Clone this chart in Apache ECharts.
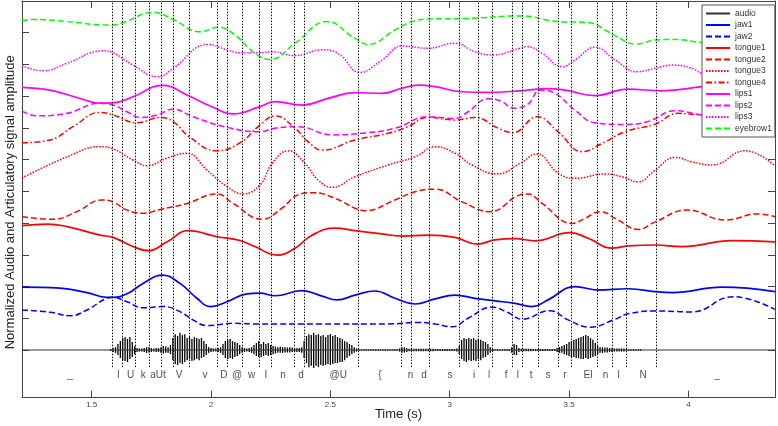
<!DOCTYPE html>
<html><head><meta charset="utf-8">
<script src="https://cdn.jsdelivr.net/npm/echarts@6/dist/echarts.min.js"></script>
<style>html,body{margin:0;padding:0;background:#fff}#c{width:778px;height:426px}</style>
</head><body><div id="c"></div>
<script>
// ---------- DATA ----------
const xMin = 1.208, xMax = 4.363;
const yMin = -1.5, yMax = 11;
const xTicks = [1.5, 2, 2.5, 3, 3.5, 4];
const yTicks = [0, 1, 2, 3, 4, 5, 6, 7, 8, 9, 10, 11];

const eyebrow1 = [[1.208,10.38],[1.254,10.42],[1.397,10.35],[1.577,10.24],[1.631,10.32],[1.757,10.64],[1.841,10.42],[1.954,10.03],[2.029,10.17],[2.092,9.98],[2.184,9.35],[2.247,9.16],[2.352,9.67],[2.485,10.35],[2.603,9.82],[2.658,9.63],[2.771,10.09],[2.841,10.35],[2.909,10.43],[3.077,10.45],[3.295,10.53],[3.454,10.35],[3.580,10.32],[3.664,10.03],[3.747,9.69],[3.777,9.64],[3.861,9.77],[3.932,9.79],[4.057,9.69],[4.217,9.61],[4.363,9.61]];
const lips3 = [[1.208,8.96],[1.296,8.80],[1.397,9.04],[1.547,9.43],[1.589,9.37],[1.673,8.98],[1.778,8.61],[1.841,8.88],[1.987,9.63],[2.067,9.46],[2.121,9.37],[2.205,9.37],[2.256,9.40],[2.352,9.28],[2.465,9.46],[2.532,9.35],[2.624,8.75],[2.716,9.14],[2.800,9.58],[2.909,9.51],[3.022,9.67],[3.106,9.40],[3.182,9.30],[3.295,9.51],[3.324,9.56],[3.387,9.35],[3.471,8.93],[3.525,9.14],[3.609,9.54],[3.693,9.14],[3.785,8.77],[3.861,8.88],[3.932,8.98],[4.015,8.88],[4.057,8.72],[4.217,8.51],[4.363,8.45]];
const lips1 = [[1.208,8.28],[1.325,8.19],[1.438,7.96],[1.535,7.78],[1.589,7.79],[1.673,7.98],[1.795,8.34],[1.899,8.04],[2.008,7.65],[2.092,7.44],[2.205,7.67],[2.268,7.83],[2.381,7.72],[2.490,7.93],[2.603,8.11],[2.716,8.09],[2.800,8.25],[2.867,8.35],[2.939,8.30],[3.052,8.14],[3.161,8.12],[3.295,8.17],[3.412,8.24],[3.483,8.19],[3.609,8.02],[3.747,8.22],[3.890,8.17],[4.057,8.30],[4.217,8.45],[4.363,8.57]];
const lips2 = [[1.208,7.53],[1.271,7.38],[1.397,7.46],[1.535,7.78],[1.589,7.72],[1.648,7.51],[1.702,7.33],[1.774,7.41],[1.841,7.59],[1.924,7.35],[2.067,7.02],[2.205,6.88],[2.268,6.99],[2.364,7.04],[2.507,6.78],[2.633,6.83],[2.771,6.99],[2.909,7.35],[3.022,7.30],[3.077,7.51],[3.161,7.92],[3.219,7.83],[3.265,7.62],[3.328,7.75],[3.379,8.19],[3.441,8.09],[3.525,7.56],[3.609,7.16],[3.735,7.11],[3.831,7.20],[3.944,7.54],[4.057,7.41],[4.217,7.31],[4.363,7.31]];
const tongue4 = [[1.208,6.53],[1.325,6.62],[1.422,7.04],[1.535,7.49],[1.589,7.41],[1.690,7.16],[1.786,7.33],[1.841,7.20],[1.912,6.70],[2.025,6.28],[2.121,6.53],[2.205,7.09],[2.268,7.38],[2.352,6.99],[2.406,6.57],[2.465,6.30],[2.603,6.62],[2.742,6.83],[2.825,7.04],[2.909,7.33],[3.022,7.25],[3.106,7.33],[3.203,6.99],[3.265,6.85],[3.366,7.35],[3.454,6.88],[3.555,6.25],[3.638,6.51],[3.735,6.88],[3.861,7.12],[3.957,7.46],[4.057,7.41],[4.217,7.56],[4.363,7.50]];
const tongue3 = [[1.208,5.42],[1.397,6.09],[1.535,6.41],[1.589,6.34],[1.673,5.99],[1.732,5.81],[1.816,6.05],[1.899,6.20],[1.983,5.67],[2.067,5.15],[2.134,4.92],[2.205,5.20],[2.256,5.88],[2.323,6.28],[2.394,5.88],[2.448,5.36],[2.507,5.13],[2.603,5.46],[2.742,5.83],[2.855,6.09],[2.939,6.41],[3.022,6.20],[3.094,5.83],[3.198,5.55],[3.295,5.88],[3.366,6.18],[3.454,5.57],[3.525,5.41],[3.651,5.55],[3.722,5.46],[3.789,5.30],[3.861,5.67],[3.944,6.07],[4.015,5.93],[4.099,5.83],[4.238,6.28],[4.363,5.80]];
const tongue2 = [[1.208,4.20],[1.338,4.12],[1.438,4.36],[1.543,4.73],[1.589,4.67],[1.648,4.41],[1.715,4.31],[1.786,4.43],[1.899,4.62],[2.025,4.92],[2.092,4.62],[2.214,4.12],[2.297,4.47],[2.364,4.89],[2.427,4.96],[2.520,4.78],[2.603,4.47],[2.645,4.39],[2.771,4.73],[2.855,4.99],[2.939,5.07],[3.052,4.67],[3.169,4.36],[3.295,4.89],[3.328,4.92],[3.387,4.62],[3.513,3.99],[3.567,4.15],[3.630,4.36],[3.705,4.10],[3.789,3.80],[3.861,4.04],[3.995,4.41],[4.154,4.10],[4.292,4.29],[4.363,4.20]];
const tongue1 = [[1.208,3.92],[1.313,3.97],[1.397,3.89],[1.535,3.62],[1.589,3.55],[1.673,3.26],[1.736,3.13],[1.816,3.41],[1.904,3.76],[2.025,3.57],[2.121,3.45],[2.184,3.26],[2.276,2.99],[2.352,3.21],[2.423,3.62],[2.520,3.84],[2.603,3.76],[2.716,3.66],[2.800,3.59],[2.909,3.62],[3.022,3.55],[3.115,3.34],[3.190,3.47],[3.274,3.51],[3.357,3.44],[3.504,3.70],[3.580,3.52],[3.680,3.21],[3.747,3.28],[3.861,3.31],[3.974,3.26],[4.183,3.45],[4.363,3.41]];
const jaw1 = [[1.208,1.98],[1.367,1.95],[1.480,1.81],[1.564,1.66],[1.589,1.66],[1.648,1.77],[1.715,2.10],[1.795,2.36],[1.870,2.10],[1.941,1.63],[1.996,1.37],[2.067,1.52],[2.151,1.77],[2.205,1.79],[2.268,1.71],[2.381,1.87],[2.465,1.70],[2.528,1.58],[2.603,1.73],[2.687,1.86],[2.771,1.63],[2.855,1.45],[2.939,1.61],[3.022,1.73],[3.106,1.63],[3.190,1.55],[3.274,1.47],[3.345,1.37],[3.412,1.58],[3.525,2.00],[3.622,1.89],[3.747,1.93],[3.873,1.83],[3.932,1.81],[4.141,1.98],[4.363,1.84]];
const jaw2 = [[1.208,1.26],[1.325,1.19],[1.409,1.08],[1.480,1.26],[1.564,1.63],[1.589,1.66],[1.648,1.52],[1.715,1.33],[1.799,1.37],[1.870,1.21],[1.924,0.95],[1.983,0.77],[2.092,0.84],[2.205,0.82],[2.457,0.82],[2.742,0.82],[2.867,0.87],[2.939,0.82],[3.010,0.73],[3.077,1.00],[3.177,1.35],[3.244,1.18],[3.303,0.97],[3.420,1.24],[3.496,0.95],[3.588,0.72],[3.693,0.97],[3.747,1.14],[3.861,1.23],[4.015,1.20],[4.187,1.68],[4.363,1.28]];

// audio: envelope samples (upper / lower excursion) every audioStep seconds from audioStart
const audioStart = 1.58, audioStep = 0.01;
const audioTop = [.03,.06,.09,.19,.28,.38,.41,.35,.41,.25,.13,.06,.05,.05,.06,.09,.09,.06,.05,.06,
 .06,.09,.13,.11,.09,.16,.38,.5,.44,.54,
 .47,.5,.38,.41,.35,.41,.38,.35,.38,.28,
 .19,.09,.06,.05,.05,.06,.09,.19,.28,.32,
 .35,.28,.25,.22,.16,.09,.06,.05,.06,.09,
 .16,.22,.28,.19,.25,.19,.22,.16,.13,.11,
 .09,.11,.09,.09,.08,.09,.08,.06,.06,.06,
 .09,.28,.44,.5,.47,.54,.47,.5,.44,.47,
 .41,.47,.5,.44,.47,.41,.38,.35,.28,.25,
 .19,.16,.09,.05,
 .02,.02,.02,.02,.02,.02,.02,.02,.02,.02,.02,.02,.02,.02,.02,.02,.02,
 .05,.09,.09,.06,
 .04,.04,.04,.04,.04,.04,.04,.04,.04,.04,.04,
 .03,.03,.03,.03,.03,.03,.03,.03,.03,
 .05,.13,.32,.38,.35,.38,.35,.38,.32,.35,
 .32,.28,.25,.19,.09,.05,
 .025,.025,.025,.025,.025,.025,
 .03,.09,.19,.16,.06,
 .04,.04,.04,.04,.04,
 .03,.03,.03,.03,.03,.03,.03,.03,.03,.03,
 .06,.09,.13,.16,.19,.25,.28,.32,.35,.38,
 .41,.44,.47,.44,.38,.32,.22,.13,
 .09,.09,.08,.08,.06,.06,
 .05,.05,.05,.05,.05,
 .025,.025,.025,.025,.025,.025,.025];
const audioBot = [.03,.06,.09,.16,.25,.32,.35,.38,.28,.22,.13,.06,.05,.05,.06,.09,.08,.06,.05,.06,
 .06,.09,.11,.09,.09,.13,.32,.44,.47,.41,
 .44,.38,.32,.28,.35,.32,.28,.32,.25,.22,
 .16,.09,.06,.05,.05,.06,.09,.16,.25,.28,
 .25,.28,.22,.19,.13,.09,.06,.05,.06,.09,
 .13,.19,.22,.22,.19,.16,.19,.16,.13,.11,
 .09,.09,.09,.08,.08,.08,.06,.06,.06,.06,
 .09,.25,.41,.54,.5,.57,.5,.54,.47,.5,
 .47,.44,.47,.44,.41,.41,.38,.38,.32,.25,
 .19,.13,.09,.05,
 .02,.02,.02,.02,.02,.02,.02,.02,.02,.02,.02,.02,.02,.02,.02,.02,.02,
 .05,.09,.08,.06,
 .04,.04,.04,.04,.04,.04,.04,.04,.04,.04,.04,
 .03,.03,.03,.03,.03,.03,.03,.03,.03,
 .05,.13,.28,.35,.38,.32,.35,.32,.35,.28,
 .32,.25,.22,.16,.09,.05,
 .025,.025,.025,.025,.025,.025,
 .03,.09,.16,.16,.06,
 .04,.04,.04,.04,.04,
 .03,.03,.03,.03,.03,.03,.03,.03,.03,.03,
 .06,.09,.09,.13,.16,.19,.22,.22,.25,.25,
 .28,.28,.25,.28,.25,.22,.19,.13,
 .09,.09,.08,.08,.06,.06,
 .05,.05,.05,.05,.05,
 .025,.025,.025,.025,.025,.025,.025];

// phone segmentation
const boundaries = [1.588,1.630,1.681,1.740,1.790,1.842,1.908,2.024,2.066,2.129,2.202,2.254,2.349,2.390,2.617,2.799,2.838,2.916,3.040,3.118,3.180,3.264,3.302,3.369,3.453,3.509,3.620,3.682,3.739,3.865];
const phoneLabels = ['_','l','U','k','aUt','V','v','D','@','w','I','n','d','@U','{','n','d','s','i','l','f','l','t','s','r','EI','n','l','N','_'];
const phoneTimes = [1.409,1.612,1.663,1.716,1.778,1.866,1.975,2.054,2.109,2.170,2.230,2.302,2.377,2.533,2.708,2.836,2.892,3.001,3.102,3.165,3.236,3.286,3.341,3.412,3.483,3.580,3.653,3.708,3.810,4.120];

// ---------- CHART ----------
const FONT = '"Liberation Sans", Arial, sans-serif';
const labelY = -0.79, boundaryLow = -0.54;
const BLUE = '#0000ff', RED = '#ff0000', MAG = '#ff00ff', GREEN = '#00ff00';
const DASH = [6, 3], DOT = [1.5, 1.5], DASHDOT = [6, 2.5, 1.5, 2.5];

function curve(name, data, color, type, width) {
  return {
    name, type: 'line', data, smooth: 0.45, symbol: 'none', showSymbol: false,
    lineStyle: { color, type, width: width || 1.5 }, itemStyle: { color }, z: 3
  };
}

const chart = echarts.init(document.getElementById('c'), null, { renderer: 'canvas' });
const axisLineStyle = { show: true, onZero: false, lineStyle: { color: '#444', width: 1 } };
const option = {
  animation: false,
  backgroundColor: '#fff',
  textStyle: { fontFamily: FONT },
  grid: { left: 22, right: 3, top: 1, bottom: 28.4, containLabel: false, outerBoundsMode: 'none' },
  xAxis: [
    { type: 'value', position: 'bottom', min: xMin, max: xMax, minInterval: 0.5, maxInterval: 0.5,
      axisLine: axisLineStyle, splitLine: { show: false },
      axisTick: { inside: true, length: 7, customValues: xTicks, lineStyle: { color: '#444' } },
      axisLabel: { customValues: xTicks, fontSize: 8, color: '#444', margin: 3, fontFamily: FONT,
        formatter: v => (xTicks.indexOf(+v) >= 0 ? String(v) : '') },
      name: 'Time (s)', nameLocation: 'middle', nameGap: 10, nameMoveOverlap: false,
      nameTextStyle: { fontSize: 13, color: '#222', fontFamily: FONT } },
    { type: 'value', position: 'top', min: xMin, max: xMax, minInterval: 0.5, maxInterval: 0.5,
      axisLine: axisLineStyle, splitLine: { show: false },
      axisTick: { inside: true, length: 7, customValues: xTicks, lineStyle: { color: '#444' } },
      axisLabel: { show: false } }
  ],
  yAxis: [
    { type: 'value', position: 'left', min: yMin, max: yMax, minInterval: 1, maxInterval: 1,
      axisLine: axisLineStyle, splitLine: { show: false },
      axisTick: { inside: true, length: 7, customValues: yTicks, lineStyle: { color: '#444' } },
      axisLabel: { show: false },
      name: 'Normalized Audio and Articulatory signal amplitude', nameLocation: 'middle', nameGap: 5,
      nameTextStyle: { fontSize: 13, color: '#222', fontFamily: FONT, padding: [0, 6, 0, 0] } },
    { type: 'value', position: 'right', min: yMin, max: yMax, minInterval: 1, maxInterval: 1,
      axisLine: axisLineStyle, splitLine: { show: false },
      axisTick: { inside: true, length: 7, customValues: yTicks, lineStyle: { color: '#444' } },
      axisLabel: { show: false } }
  ],
  legend: {
    orient: 'vertical', left: 702, top: 5, padding: [4, 3, 4, 3],
    itemWidth: 24, itemHeight: 8, itemGap: 2.5,
    backgroundColor: '#fff', borderColor: '#555', borderWidth: 1, borderRadius: 0,
    itemStyle: { opacity: 0, borderWidth: 0 },
    textStyle: { fontSize: 8.5, color: '#333', fontFamily: FONT },
    data: ['audio','jaw1','jaw2','tongue1','tongue2','tongue3','tongue4','lips1','lips2','lips3','eyebrow1']
  },
  series: [
    { name: 'audio', type: 'line', data: [[xMin, 0], [xMax, 0]], symbol: 'none',
      lineStyle: { color: '#333', width: 1 }, itemStyle: { color: '#333' }, z: 2,
      markLine: { silent: true, symbol: ['none', 'none'], label: { show: false }, animation: false,
        lineStyle: { type: DOT, color: '#111', width: 1 },
        data: boundaries.map(t => [{ coord: [t, boundaryLow] }, { coord: [t, yMax] }]) } },
    { name: 'audioWave', type: 'custom', z: 2,
      data: audioTop.map((v, i) => [audioStart + i * audioStep, v, -audioBot[i]]),
      renderItem: (params, api) => {
        const a = api.coord([api.value(0), api.value(1)]);
        const b = api.coord([api.value(0), api.value(2)]);
        return { type: 'line', shape: { x1: a[0], y1: a[1], x2: b[0], y2: b[1] },
          style: { stroke: '#000', lineWidth: 1.3 } };
      } },
    curve('jaw1', jaw1, BLUE, 'solid', 1.7),
    curve('jaw2', jaw2, BLUE, DASH),
    curve('tongue1', tongue1, RED, 'solid', 1.7),
    curve('tongue2', tongue2, RED, DASH),
    curve('tongue3', tongue3, RED, DOT),
    curve('tongue4', tongue4, RED, DASHDOT),
    curve('lips1', lips1, MAG, 'solid', 1.7),
    curve('lips2', lips2, MAG, DASH),
    curve('lips3', lips3, MAG, DOT),
    curve('eyebrow1', eyebrow1, GREEN, DASH),
    { name: 'phones', type: 'scatter', symbolSize: 1, silent: true, z: 4,
      itemStyle: { color: 'rgba(0,0,0,0)' },
      data: phoneTimes.map((t, i) => ({ value: [t, labelY], name: phoneLabels[i] })),
      label: { show: true, position: 'inside', formatter: p => p.name, color: '#222', fontSize: 10, fontFamily: FONT } }
  ]
};
chart.setOption(option);
</script></body></html>
